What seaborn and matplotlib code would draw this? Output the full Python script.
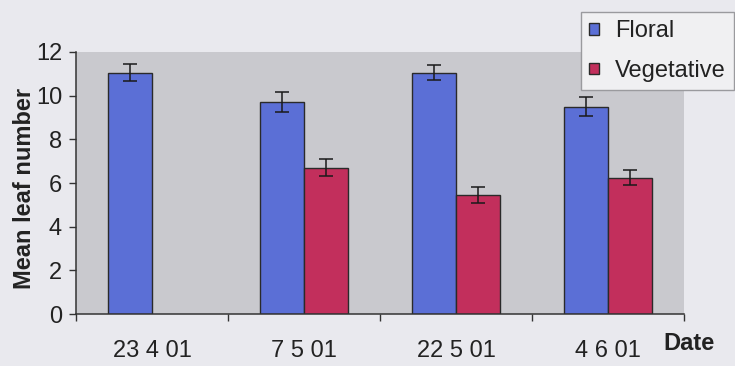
import numpy as np
import pandas as pd
import seaborn as sns
import matplotlib.pyplot as plt

# values
dates = ['23 4 01', '7 5 01', '22 5 01', '4 6 01']
floral = [11.05, 9.7, 11.05, 9.5]
floral_err = [0.4, 0.45, 0.35, 0.42]
vegetative = [np.nan, 6.7, 5.45, 6.25]
vegetative_err = [np.nan, 0.38, 0.36, 0.36]
groups = ['Floral', 'Vegetative']
y_ticks = [0, 2, 4, 6, 8, 10, 12]

df = pd.DataFrame({
    'date': dates * 2,
    'group': ['Floral'] * len(dates) + ['Vegetative'] * len(dates),
    'leaves': floral + vegetative,
})
errs = {'Floral': floral_err, 'Vegetative': vegetative_err}

sns.set_style('white')
plt.rcParams['font.family'] = ['Liberation Sans', 'DejaVu Sans']

fig = plt.figure(figsize=(7.35, 3.66), dpi=100)
fig.patch.set_facecolor('#e9e9ee')
ax = fig.add_axes([0.1034, 0.142, 0.8272, 0.716])
ax.set_facecolor('#c9c9ce')

palette = {'Floral': '#5b6fd6', 'Vegetative': '#c22f5c'}
sns.barplot(data=df, x='date', y='leaves', hue='group', order=dates,
            hue_order=groups, palette=palette, width=0.58, gap=0,
            edgecolor='#2a2a2a', linewidth=1.0, saturation=1,
            errorbar=None, ax=ax)

# error bars on top of each bar
for cont, grp in zip(ax.containers, groups):
    for bar in cont:
        h = bar.get_height()
        if not np.isfinite(h):
            continue
        xc = bar.get_x() + bar.get_width() / 2
        i = int(round(xc))
        ax.errorbar(xc, h, yerr=errs[grp][i], fmt='none', ecolor='#1a1a1a',
                    elinewidth=1.1, capsize=5, capthick=1.1, zorder=5)

ax.set_xlim(-0.5, len(dates) - 0.5)
ax.set_ylim(0, 12)
ax.set_yticks(y_ticks)
ax.set_xticks(np.arange(-0.5, len(dates)), minor=True)

for s in ['top', 'right']:
    ax.spines[s].set_visible(False)
for s in ['left', 'bottom']:
    ax.spines[s].set_color('#333333')
    ax.spines[s].set_linewidth(1.1)

ax.tick_params(axis='y', direction='out', length=5, width=1, color='#333333',
               labelsize=17, labelcolor='#222222', pad=5, left=True)
ax.tick_params(axis='x', which='major', length=0, labelsize=17,
               labelcolor='#222222', pad=19)
ax.tick_params(axis='x', which='minor', direction='out', length=5, width=1,
               color='#333333', bottom=True)

ax.set_ylabel('Mean leaf number', fontsize=17, fontweight='bold', color='#222222')
ax.yaxis.set_label_coords(-0.065, 0.48)
ax.set_xlabel('Date', fontsize=17, fontweight='bold', color='#222222')
ax.xaxis.set_label_coords(1.008, -0.07)

sns.move_legend(ax, 'upper left', bbox_to_anchor=(581 / 735, 1 - 12 / 366),
                bbox_transform=fig.transFigure, title=None, fontsize=17,
                frameon=True, fancybox=False, handlelength=0.4,
                handleheight=0.4, handletextpad=0.7, labelspacing=0.75,
                borderpad=0.35, borderaxespad=0)
leg = ax.get_legend()
leg.get_frame().set_facecolor('#f0f0f2')
leg.get_frame().set_edgecolor('#9a9a9e')
leg.get_frame().set_linewidth(1.0)
leg.get_frame().set_alpha(1)
for t in leg.get_texts():
    t.set_color('#222222')

fig.savefig('out.png', dpi=100, facecolor=fig.get_facecolor())
